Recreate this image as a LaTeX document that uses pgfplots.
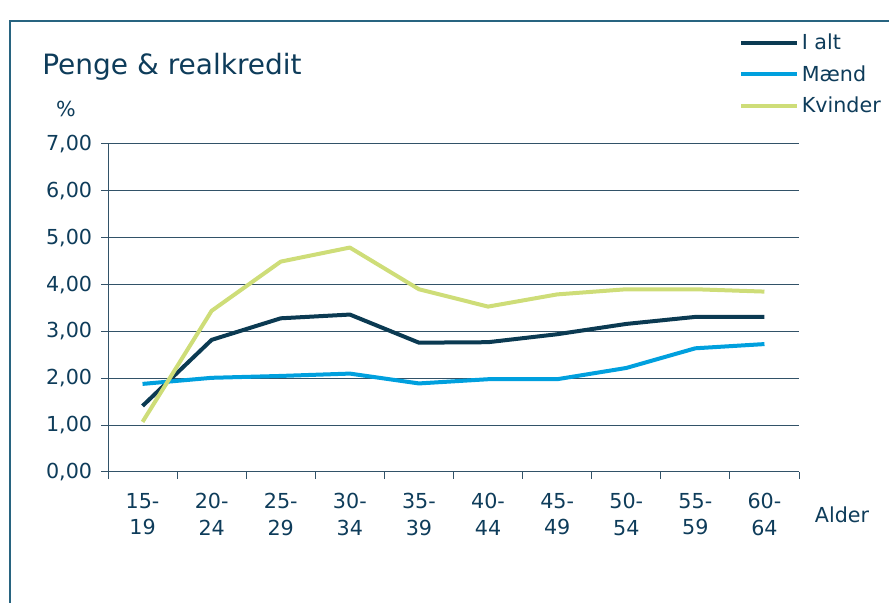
\documentclass[border=0pt]{standalone}
\usepackage{pgfplots}
\pgfplotsset{compat=1.18}
\usepackage{fontspec}
\setmainfont{DejaVu Sans}
\definecolor{ialt}{RGB}{11,58,82}
\definecolor{maend}{RGB}{0,160,222}
\definecolor{kvinder}{RGB}{206,221,120}
\definecolor{txt}{RGB}{14,60,90}
\definecolor{gridc}{RGB}{50,82,104}
\definecolor{framec}{RGB}{40,100,128}
\begin{document}
\begin{tikzpicture}[x=0.75pt,y=0.75pt]
\path[use as bounding box] (0,0) rectangle (889,603);
\draw[framec, line width=1.5pt] (9.6,0) -- (9.6,582) -- (890,582);
\node[anchor=base west, font=\fontsize{21}{25}\selectfont, text=txt, inner sep=0pt] at (42,528) {Penge \& realkredit};
\node[font=\fontsize{15.5}{20}\selectfont, text=txt, inner sep=0pt] at (66,494) {\%};
\node[font=\fontsize{15.5}{20}\selectfont, text=txt, inner sep=0pt] at (842,88) {Alder};
\begin{axis}[
  at={(81pt,98.25pt)}, anchor=south west,
  scale only axis, width=518.25pt, height=246pt,
  xmin=-0.5, xmax=9.5, ymin=0, ymax=7,
  axis x line=bottom, axis y line=left,
  axis line style={-, draw=gridc, line width=0.75pt},
  xtick={-0.5,0.5,...,9.5},
  x tick label as interval,
  xticklabels={{15-\\19},{20-\\24},{25-\\29},{30-\\34},{35-\\39},{40-\\44},{45-\\49},{50-\\54},{55-\\59},{60-\\64}},
  xticklabel style={align=center, font=\fontsize{15.5}{20}\selectfont, text=txt, yshift=-7.5pt},
  ytick={0,1,...,7},
  yticklabel style={font=\fontsize{15.5}{20}\selectfont, text=txt, xshift=-3.5pt},
  /pgf/number format/.cd, use comma, fixed, fixed zerofill, precision=2, assume math mode=true,
  /pgfplots/.cd,
  tick align=outside, major tick length=4.9pt,
  tick style={draw=gridc, line width=0.75pt},
  ymajorgrids, grid style={draw=gridc, line width=0.75pt},
  legend style={at={(axis description cs:0.913,1.345)}, anchor=north west, draw=none, fill=none,
     font=\fontsize{15.5}{20}\selectfont, text=txt, row sep=6.5pt, inner sep=0pt},
  legend cell align=left,
  legend image code/.code={\draw[#1, line width=3pt] (0pt,0pt) -- (42pt,0pt);},
  every axis plot/.append style={line width=3pt, line join=round},
  clip=false,
]
\addplot[ialt] coordinates {(0,1.41) (1,2.82) (2,3.28) (3,3.36) (4,2.76) (5,2.77) (6,2.94) (7,3.16) (8,3.31) (9,3.31)};
\addlegendentry{I alt}
\addplot[maend] coordinates {(0,1.88) (1,2.01) (2,2.05) (3,2.10) (4,1.89) (5,1.98) (6,1.98) (7,2.22) (8,2.64) (9,2.73)};
\addlegendentry{Mænd}
\addplot[kvinder] coordinates {(0,1.07) (1,3.44) (2,4.49) (3,4.79) (4,3.90) (5,3.53) (6,3.79) (7,3.90) (8,3.90) (9,3.85)};
\addlegendentry{Kvinder}
\end{axis}
\end{tikzpicture}
\end{document}
